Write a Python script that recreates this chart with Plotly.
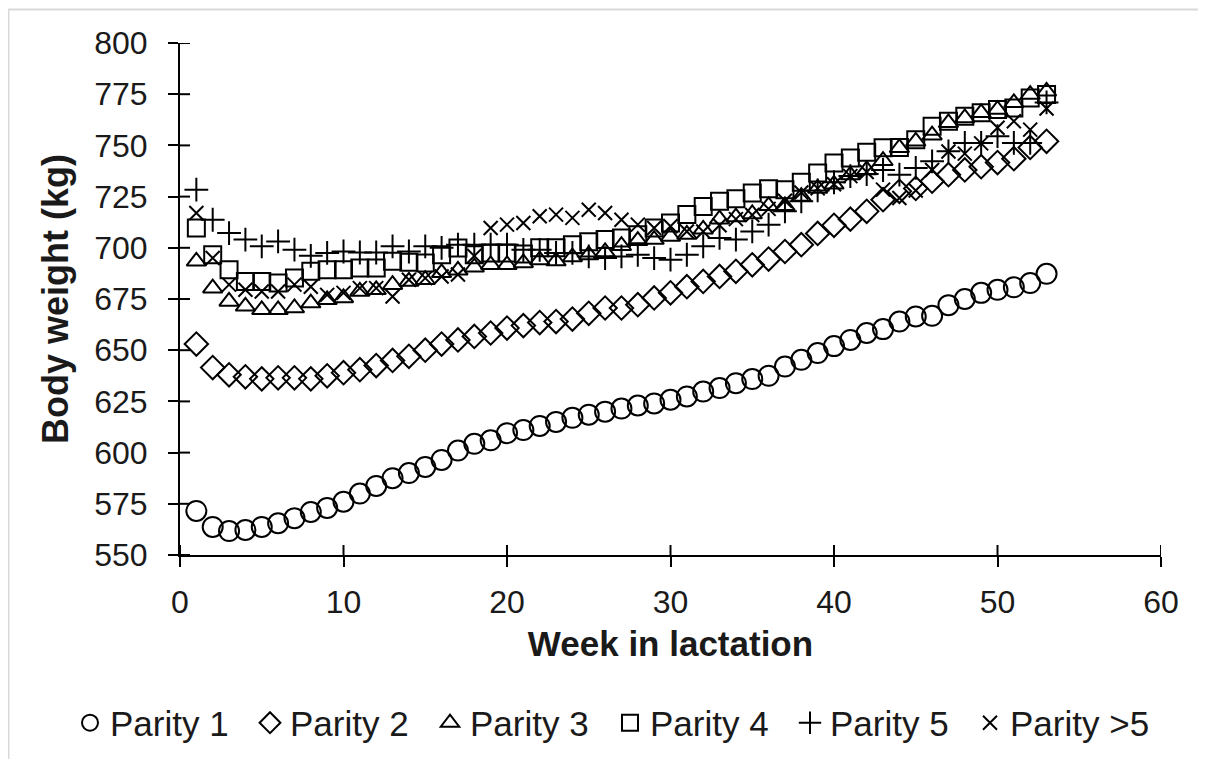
import plotly.graph_objects as go

weeks = [1, 2, 3, 4, 5, 6, 7, 8, 9, 10, 11, 12, 13, 14, 15, 16, 17, 18, 19, 20,
         21, 22, 23, 24, 25, 26, 27, 28, 29, 30, 31, 32, 33, 34, 35, 36, 37, 38, 39, 40,
         41, 42, 43, 44, 45, 46, 47, 48, 49, 50, 51, 52, 53]

parity1 = [571.5, 563.7, 561.7, 562.2, 563.7, 565.5, 568, 571, 573, 576, 580, 583.7, 587.5,
           590, 593, 596.4, 601, 604.3, 606, 609.5, 611, 613, 615, 617, 618.5, 620, 621.5,
           623, 624, 625.8, 627.4, 629.8, 631.5, 633.9, 635.9, 637.5, 642, 645.3, 648.6, 652,
           655, 658.4, 660.3, 664, 666.5, 666.8, 672, 675, 678, 679.5, 680.7, 682.8, 687.3]
parity2 = [653, 641.5, 638, 637, 636, 636.5, 636.5, 636, 637.5, 639, 640.5, 642.5, 645, 647,
           650, 653, 655, 656.7, 658.4, 660.8, 662, 663.5, 664, 665.2, 668, 670.6, 670.6,
           672.2, 675.5, 678, 681, 683.6, 686, 688.5, 691.7, 694.5, 698.2, 701.5, 707, 711,
           714, 717.8, 723.5, 727.6, 729, 732.5, 735.7, 738, 739.6, 741.6, 743.5, 749, 752]
parity3 = [693.4, 680.3, 673.8, 671.4, 669.7, 669.7, 670.6, 673, 674.6, 675.5, 678.7, 679.5,
           682, 683.6, 684.4, 687.8, 689, 690.5, 691.7, 691.7, 692.6, 694, 693.5, 695.5, 696.5,
           698, 701, 703.5, 704, 705.5, 706.5, 709, 714, 715, 716.5, 720.5, 720.5, 725, 729,
           731, 735.5, 738, 742.5, 748.8, 752, 755, 761, 763.4, 765.9, 767.5, 770.8, 774.8, 776.4]
parity4 = [709.7, 696.6, 689.3, 683.6, 683.6, 682.8, 685.2, 688.5, 689.3, 689.3, 690.1, 690.1,
           693.4, 692.9, 692.6, 696.6, 699.9, 696.6, 697.5, 697.5, 697, 700, 700, 701.5, 703,
           704, 704.8, 706.4, 709.7, 712.1, 716.2, 720.2, 722.7, 723.9, 726.8, 728.8, 728.4,
           732, 736.5, 741.4, 743.9, 746.7, 748.8, 749, 752.8, 759.3, 761.8, 764.2, 765.9,
           767.5, 768.3, 773.2, 774.8]
parity5 = [728.4, 713.7, 707.2, 704, 700.7, 703.1, 699.1, 696.1, 697.5, 698.2, 697.7, 697.7,
           700.7, 698.2, 700.7, 700, 701.5, 701.5, 701.5, 701.5, 699, 699, 697.5, 697.5, 695.8,
           695, 695.8, 696.6, 695, 694.2, 696.6, 700.7, 704.8, 704, 708, 711.3, 717.8, 722.7,
           728, 732, 735, 736, 738, 735.7, 739, 742.2, 747.1, 751.2, 751.2, 754.5, 751.2,
           751.2, 771]
parity6 = [717, 695, 682, 679.5, 678.7, 678.7, 682, 681, 677, 678, 680.3, 680.3, 676.2, 684.4,
           685.2, 686, 687, 696, 709.7, 711.3, 712.1, 715.4, 716.2, 714.6, 718.6, 717, 713.7,
           711.3, 709.7, 710.5, 708, 708, 711, 714, 716, 719, 723, 727, 729, 731, 735, 737,
           728.4, 724.3, 728, 738, 747, 746, 751, 758.6, 761.8, 757.7, 768]

series_names = ["Parity 1", "Parity 2", "Parity 3", "Parity 4", "Parity 5", "Parity >5"]
series_values = [parity1, parity2, parity3, parity4, parity5, parity6]
symbols = ["circle-open", "diamond-open", "triangle-up-open", "square-open",
           "cross-thin-open", "x-thin-open"]
sizes = [20, 18, 17, 17, 17, 14]

y_ticks = [550, 575, 600, 625, 650, 675, 700, 725, 750, 775, 800]
x_ticks = [0, 10, 20, 30, 40, 50, 60]

FONT = "Liberation Sans, Arial, sans-serif"
TXT = "#1a1a1a"

W, H = 1190, 751
ML, MR, MT, MB = 172, 37, 35, 204
PW, PH = W - ML - MR, H - MT - MB
TICK = 10
LEG_X0 = 62        # px (figure coords) of the legend's left edge
LEG_PITCH = 180    # px between legend entries

fig = go.Figure()
for i, (name, vals, sym, sz) in enumerate(zip(series_names, series_values, symbols, sizes)):
    fig.add_trace(go.Scatter(
        x=weeks, y=vals, mode="markers", name=name,
        legend="legend" if i < 5 else "legend2",
        marker=dict(symbol=sym, size=sz, color="black",
                    line=dict(color="black", width=2)),
    ))

axis_common = dict(showgrid=False, zeroline=False, linecolor="black", linewidth=2,
                   tickcolor="black", tickwidth=2, ticklen=TICK, ticks="outside",
                   showline=True, automargin=False,
                   tickfont=dict(family=FONT, size=32, color=TXT))

# inner half of the crossing tick marks, placed on the axes' own scales
shapes = []
for t in x_ticks:
    shapes.append(dict(type="line", xref="x", yref="y domain", x0=t, x1=t,
                       y0=0, y1=TICK / PH, line=dict(color="black", width=2)))
for t in y_ticks:
    shapes.append(dict(type="line", xref="x domain", yref="y", x0=0, x1=TICK / PW,
                       y0=t, y1=t, line=dict(color="black", width=2)))
# light chart-area border
shapes.append(dict(type="rect", xref="paper", yref="paper",
                   x0=(0.5 - ML) / PW, x1=(W + 20 - ML) / PW,
                   y0=-(MB + 20) / PH, y1=(PH + MT - 1.5) / PH,
                   line=dict(color="#d9d9d9", width=2), fillcolor="rgba(0,0,0,0)",
                   layer="below"))

legend_common = dict(orientation="h", xanchor="left", y=-0.328, yanchor="middle",
                     font=dict(family=FONT, size=35, color=TXT), itemwidth=30,
                     entrywidth=LEG_PITCH - 45, entrywidthmode="pixels",
                     bgcolor="rgba(0,0,0,0)")

fig.update_layout(
    width=W, height=H,
    paper_bgcolor="white", plot_bgcolor="white",
    margin=dict(l=ML, r=MR, t=MT, b=MB, autoexpand=False),
    font=dict(family=FONT, color=TXT),
    xaxis=dict(range=[0, 60], tickvals=x_ticks, ticklabelstandoff=8,
               title=dict(text="<b>Week in lactation</b>", standoff=12,
                          font=dict(family=FONT, size=35, color=TXT)),
               **axis_common),
    yaxis=dict(range=[550, 800], tickvals=y_ticks, ticklabelstandoff=14,
               title=dict(text="<b>Body weight (kg)</b>", standoff=15,
                          font=dict(family=FONT, size=36, color=TXT)),
               **axis_common),
    legend=dict(x=(LEG_X0 - ML) / PW, **legend_common),
    legend2=dict(x=(LEG_X0 + 5 * LEG_PITCH - ML) / PW,
                 **{**legend_common, "entrywidth": 0}),
    shapes=shapes,
)

fig.write_html("out.html")
